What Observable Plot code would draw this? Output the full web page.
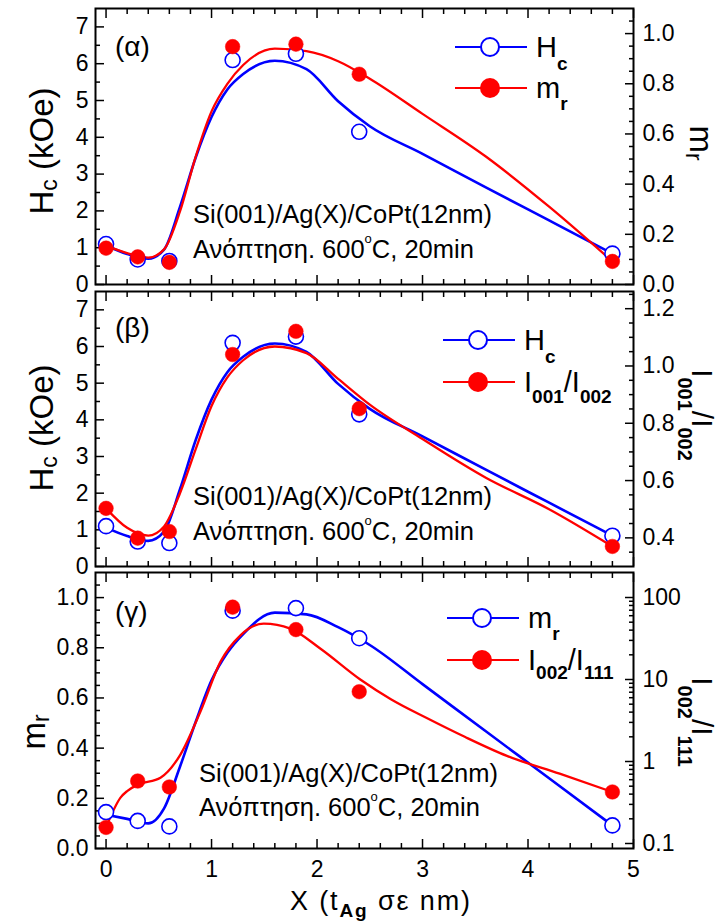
<!DOCTYPE html>
<html>
<head>
<meta charset="utf-8">
<script src="https://cdn.jsdelivr.net/npm/d3@7"></script>
<script src="https://cdn.jsdelivr.net/npm/@observablehq/plot@0.6"></script>
<style>
  body { margin: 0; background: #fff; }
  #fig { position: relative; width: 723px; height: 921px; overflow: hidden;
         font-family: "Liberation Sans", Arial, sans-serif; }
  #fig svg { position: absolute; left: 0; }
</style>
</head>
<body>
<div id="fig"></div>
<script>
// Ag layer thickness of the samples (nm)
const xAg = [0, 0.3, 0.6, 1.2, 1.8, 2.4, 4.8];
// Coercive field Hc (kOe)
const hc = [1.1, 0.68, 0.64, 6.1, 6.27, 4.15, 0.84];
// Remanent magnetization mr
const mr = [0.145, 0.11, 0.088, 0.948, 0.958, 0.838, 0.092];
// XRD intensity ratio I001/I002
const i001i002 = [0.503, 0.399, 0.422, 1.04, 1.121, 0.851, 0.37];
// XRD intensity ratio I002/I111
const i002i111 = [0.157, 0.578, 0.489, 76.3, 40.6, 7.1, 0.425];

// Smooth guide-to-the-eye curves, sampled along X
const fitX = [0, 0.2, 0.4, 0.55, 0.7, 0.85, 1.0, 1.15, 1.3, 1.6, 1.9, 2.2, 2.5, 3.0, 3.6, 4.2, 4.8];
const hcFit   = [1.06, 0.83, 0.70, 0.95, 2.1, 3.45, 4.55, 5.3, 5.72, 6.08, 5.85, 4.98, 4.3, 3.55, 2.64, 1.74, 0.84];
const mrFitA  = [0.155, 0.125, 0.107, 0.14, 0.29, 0.51, 0.69, 0.80, 0.875, 0.94, 0.93, 0.89, 0.82, 0.68, 0.51, 0.31, 0.092];
const i001Fit = [0.503, 0.435, 0.408, 0.44, 0.555, 0.71, 0.86, 0.96, 1.02, 1.068, 1.045, 0.955, 0.865, 0.745, 0.61, 0.50, 0.37];
const mrFitC  = [0.135, 0.118, 0.1, 0.16, 0.325, 0.505, 0.67, 0.78, 0.855, 0.94, 0.933, 0.882, 0.811, 0.655, 0.467, 0.28, 0.092];
// I002/I111 guide curve (own sampling, log-scaled quantity)
const i002FitX = [0, 0.137, 0.2, 0.31, 0.516, 0.705, 0.895, 1.084, 1.274, 1.495, 1.747, 2.03, 2.41, 2.7, 3.04, 3.4, 3.8, 4.3, 4.8];
const i002Fit  = [0.157, 0.363, 0.436, 0.526, 0.634, 1.216, 4.07, 16.4, 34.6, 48.0, 41.7, 23.9, 10.0, 5.75, 3.39, 2.0, 1.17, 0.71, 0.425];

// Tick values
const xMajor = [0, 1, 2, 3, 4, 5];
const hcMajor = [0, 1, 2, 3, 4, 5, 6, 7];
const mrMajor = [0, 0.2, 0.4, 0.6, 0.8, 1.0];
const i001Major = [0.4, 0.6, 0.8, 1.0, 1.2];
const i002Major = [0.1, 1, 10, 100];

const BLUE = "#0000ff", RED = "#ff0000";
const fig = document.getElementById("fig");
const zip = (xs, ys) => xs.map((x, i) => ({x, v: ys[i]}));
const minorSteps = (lo, hi, step, major) =>
  d3.range(Math.round(lo / step), Math.round(hi / step) + 1)
    .map(k => +(k * step).toFixed(4))
    .filter(v => !major.some(m => Math.abs(m - v) < 1e-6));

const xMinor = minorSteps(0.2, 4.8, 0.2, xMajor);

function tickMarks(axis, anchor, major, minor) {
  const A = axis === "x" ? Plot.axisX : Plot.axisY;
  return [
    A(major, {anchor, tickSize: -9, strokeWidth: 1.5, tickFormat: () => "", label: null}),
    A(minor, {anchor, tickSize: -5, strokeWidth: 1.5, tickFormat: () => "", label: null})
  ];
}
function tickLabels(axis, anchor, values, fmt, pad) {
  const A = axis === "x" ? Plot.axisX : Plot.axisY;
  return A(values, {anchor, tickSize: 0, tickPadding: pad, tickFormat: fmt, label: null});
}
function xAxes(withLabels) {
  return [
    ...tickMarks("x", "top", xMajor, xMinor),
    ...tickMarks("x", "bottom", xMajor, xMinor),
    withLabels ? tickLabels("x", "bottom", xMajor, d => String(d), 12) : null
  ];
}
function curve(xs, ys, map, stroke, w) {
  return Plot.line(zip(xs, ys), {x: "x", y: d => map(d.v), stroke, strokeWidth: w, curve: "monotone-x"});
}
function openDots(ys, map) {
  return Plot.dot(zip(xAg, ys), {x: "x", y: d => map(d.v), r: 7.5, stroke: BLUE, strokeWidth: 1.6, fill: "white"});
}
function fullDots(ys, map) {
  return Plot.dot(zip(xAg, ys), {x: "x", y: d => map(d.v), r: 7.3, fill: RED, stroke: RED, strokeWidth: 0.5});
}

function panel({top, frameTop, frameBottom, height, yDomain, marks}) {
  const svg = Plot.plot({
    width: 723, height,
    marginLeft: 95, marginRight: 90,
    marginTop: frameTop - top, marginBottom: top + height - frameBottom,
    x: {domain: [-0.1, 5]},
    y: {domain: yDomain},
    style: {background: "transparent", overflow: "visible", color: "black",
            fontFamily: '"Liberation Sans", Arial, sans-serif', fontSize: "23px"},
    marks: [...marks, Plot.frame({stroke: "black", strokeWidth: 2})]
  });
  svg.style.top = top + "px";
  fig.append(svg);
}

const id = v => v;
const fmt1 = v => v.toFixed(1);

// (α) Hc on the left, mr on the right
const MR_A = 1.1, HC_MAX = 7.5;
const mrToHc = v => v * HC_MAX / MR_A;
panel({
  top: 0, frameTop: 8, frameBottom: 284, height: 290, yDomain: [0, HC_MAX],
  marks: [
    ...xAxes(false),
    ...tickMarks("y", "left", hcMajor, minorSteps(0.5, 7, 0.5, hcMajor)),
    tickLabels("y", "left", hcMajor, d => String(d), 7),
    ...tickMarks("y", "right", mrMajor.map(mrToHc), minorSteps(0.05, 1.05, 0.05, mrMajor).map(mrToHc)),
    tickLabels("y", "right", mrMajor.map(mrToHc), d => fmt1(d * MR_A / HC_MAX), 9),
    curve(fitX, hcFit, id, BLUE, 2.6),
    curve(fitX, mrFitA, mrToHc, RED, 2.3),
    openDots(hc, id),
    fullDots(mr, mrToHc)
  ]
});

// (β) Hc on the left, I001/I002 on the right
const R0 = 0.3, R1 = 1.26;
const rToHc = v => (v - R0) / (R1 - R0) * HC_MAX;
panel({
  top: 285, frameTop: 291, frameBottom: 566, height: 286, yDomain: [0, HC_MAX],
  marks: [
    ...xAxes(false),
    ...tickMarks("y", "left", hcMajor, minorSteps(0.5, 7, 0.5, hcMajor)),
    tickLabels("y", "left", hcMajor, d => String(d), 7),
    ...tickMarks("y", "right", i001Major.map(rToHc), minorSteps(0.35, 1.25, 0.05, i001Major).map(rToHc)),
    tickLabels("y", "right", i001Major.map(rToHc), d => fmt1(R0 + d / HC_MAX * (R1 - R0)), 9),
    curve(fitX, hcFit, id, BLUE, 2.6),
    curve(fitX, i001Fit, rToHc, RED, 2.3),
    openDots(hc, id),
    fullDots(i001i002, rToHc)
  ]
});

// (γ) mr on the left, I002/I111 (log) on the right
const MR_C = 1.1, L0 = -1.061, L1 = 2.305;
const logToMr = v => (Math.log10(v) - L0) / (L1 - L0) * MR_C;
const mrToLog = d => Math.pow(10, L0 + d / MR_C * (L1 - L0));
const logMinor = [];
for (const dec of [0.1, 1, 10]) for (let k = 2; k <= 9; k++) logMinor.push(+(dec * k).toPrecision(3));
panel({
  top: 566, frameTop: 572, frameBottom: 848, height: 355, yDomain: [0, MR_C],
  marks: [
    ...xAxes(true),
    ...tickMarks("y", "left", mrMajor, minorSteps(0.05, 1.05, 0.05, mrMajor)),
    tickLabels("y", "left", mrMajor, fmt1, 7),
    ...tickMarks("y", "right", i002Major.map(logToMr), logMinor.map(logToMr)),
    tickLabels("y", "right", i002Major.map(logToMr), d => { const v = mrToLog(d); return v < 1 ? v.toFixed(1) : String(Math.round(v)); }, 9),
    curve(fitX, mrFitC, id, BLUE, 2.6),
    curve(i002FitX, i002Fit, logToMr, RED, 2.3),
    openDots(mr, id),
    fullDots(i002i111, logToMr)
  ]
});

// Titles, annotations and legends
const sub = (t, dy, size = 19, bold = true) =>
  `<tspan font-size="${size}"${bold ? ' font-weight="bold"' : ""} dy="${dy}">${t}</tspan>`;
const back = (t, dy) => `<tspan dy="${-dy}">${t}</tspan>`;
const sample = "Si(001)/Ag(X)/CoPt(12nm)";
const anneal = `Ανόπτηση. 600<tspan font-size="13" dy="-15">o</tspan><tspan dy="15">C, 20min</tspan>`;

function legendRow(x0, y, color, filled, label) {
  const xc = x0 + 35;
  return `<line x1="${x0}" x2="${x0 + 72}" y1="${y}" y2="${y}" stroke="${color}" stroke-width="2.2"/>` +
    (filled
      ? `<circle cx="${xc}" cy="${y}" r="10" fill="${color}"/>`
      : `<circle cx="${xc}" cy="${y}" r="9" fill="white" stroke="${color}" stroke-width="2"/>`) +
    `<text x="${x0 + 81}" y="${y + 10}" font-size="29">${label}</text>`;
}
const lblHc = `H${sub("c", 13)}`;
const lblMr = `m${sub("r", 12)}`;
const lblI12 = `I${sub("001", 11)}${back("/I", 11)}${sub("002", 11)}`;
const lblI21 = `I${sub("002", 9)}${back("/I", 9)}${sub("111", 9)}`;

const overlay = `
<svg width="723" height="921" style="top:0px" xmlns="http://www.w3.org/2000/svg"
     font-family="Liberation Sans, Arial, sans-serif" fill="black">
  <text x="115" y="56" font-size="28">(α)</text>
  <text x="115" y="337" font-size="28">(β)</text>
  <text x="115" y="621" font-size="28">(γ)</text>

  <g font-size="25.5">
    <text x="193" y="223">${sample}</text><text x="193" y="258">${anneal}</text>
    <text x="193" y="505">${sample}</text><text x="193" y="540">${anneal}</text>
    <text x="199" y="782">${sample}</text><text x="199" y="816">${anneal}</text>
  </g>

  ${legendRow(455, 47, BLUE, false, lblHc)}
  ${legendRow(455, 88, RED, true, lblMr)}
  ${legendRow(443, 340, BLUE, false, lblHc)}
  ${legendRow(443, 382, RED, true, lblI12)}
  ${legendRow(447, 618, BLUE, false, lblMr)}
  ${legendRow(447, 660, RED, true, lblI21)}

  <g font-size="33" text-anchor="middle">
    <text transform="translate(53,151) rotate(-90)">H${sub("c", 4, 23, false)}${back(" (kOe)", 4)}</text>
    <text transform="translate(53,428) rotate(-90)">H${sub("c", 4, 23, false)}${back(" (kOe)", 4)}</text>
    <text transform="translate(45,732) rotate(-90)">m${sub("r", 4, 23, false)}</text>
    <text transform="translate(690,143) rotate(90)">m${sub("r", 4, 23, false)}</text>
  </g>
  <g font-size="30" text-anchor="middle">
    <text transform="translate(692,415) rotate(90)">I${sub("001", 14, 20)}${back("/I", 14)}${sub("002", 14, 20)}</text>
    <text transform="translate(692,722) rotate(90)">I${sub("002", 14, 20)}${back("/I", 14)}${sub("111", 14, 20)}</text>
  </g>

  <text x="290" y="910" font-size="27" textLength="180" lengthAdjust="spacing">X (t${sub("Ag", 7, 19)}${back(" σε nm)", 7)}</text>
</svg>`;
fig.insertAdjacentHTML("beforeend", overlay);
</script>
</body>
</html>
